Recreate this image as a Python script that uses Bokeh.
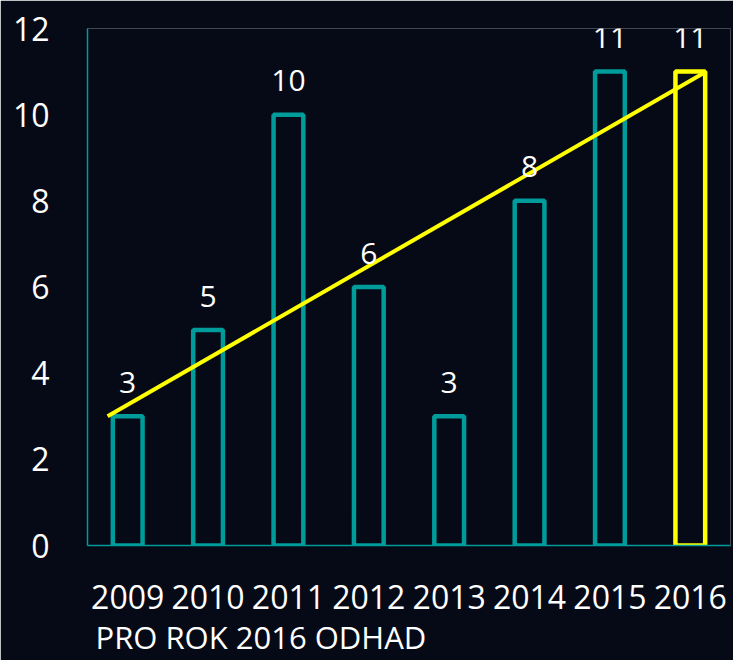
from bokeh.plotting import figure
from bokeh.models import ColumnDataSource, FactorRange, Range1d, FixedTicker, Title
from bokeh.transform import dodge
from bokeh.core.properties import value
from bokeh.embed import file_html
from bokeh.resources import INLINE

years = ["2009", "2010", "2011", "2012", "2013", "2014", "2015", "2016"]
counts = [3, 5, 10, 6, 3, 8, 11, 11]
y_ticks = [0, 2, 4, 6, 8, 10, 12]
title_text = "PRO ROK 2016 ODHAD"

TEAL = "#009b9b"
YELLOW = "#ffff00"
BG = "#060a16"
FONT = "Open Sans"

colors = [TEAL] * (len(years) - 1) + [YELLOW]
src = ColumnDataSource(dict(x=years, y=counts, c=colors, lbl=[str(v) for v in counts]))
trend = ColumnDataSource(dict(x0=[years[0]], y0=[counts[0]], x1=[years[-1]], y1=[counts[-1]]))

p = figure(x_range=FactorRange(factors=years), y_range=Range1d(0, 12),
           width=733, height=660, frame_width=643, frame_height=517,
           min_border_left=87, min_border_top=28, min_border_right=3,
           min_border_bottom=0,
           output_backend="svg", toolbar_location=None,
           background_fill_color=BG, border_fill_color=BG)
p.outline_line_color = None
p.xgrid.grid_line_color = None
p.ygrid.grid_line_color = None

p.vbar(x="x", top="y", width=0.37, source=src, fill_alpha=0,
       line_color="c", line_width=4.5)
p.segment(x0=dodge("x0", -0.25, range=p.x_range), y0="y0",
          x1=dodge("x1", 0.2, range=p.x_range), y1="y1",
          source=trend, line_color=YELLOW, line_width=4)
p.text(x="x", y="y", text="lbl", source=src, text_align="center",
       text_baseline="middle", y_offset=-34, text_color="white",
       text_font=value(FONT), text_font_size="30px")

for ax in (p.xaxis[0], p.yaxis[0]):
    ax.axis_line_color = TEAL
    ax.axis_line_width = 1.5
    ax.major_tick_line_color = None
    ax.minor_tick_line_color = None
    ax.major_tick_out = 0
    ax.major_tick_in = 0
    ax.major_label_text_color = "white"
    ax.major_label_text_font = FONT
    ax.major_label_text_font_size = "32px"

p.yaxis[0].ticker = FixedTicker(ticks=y_ticks)
p.yaxis[0].major_label_standoff = 38
p.xaxis[0].major_label_standoff = 39

p.add_layout(Title(text=title_text, align="left", offset=8, standoff=5,
                   text_color="white", text_font=FONT, text_font_size="31px",
                   text_font_style="normal"), "below")

open("out.html", "w").write(file_html(p, INLINE))
